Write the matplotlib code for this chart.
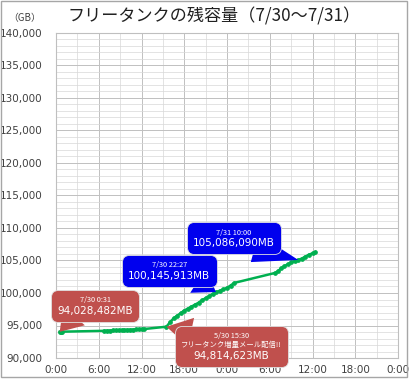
import matplotlib.pyplot as plt
from matplotlib.patches import Rectangle
from matplotlib.offsetbox import AnnotationBbox, TextArea, VPacker
import numpy as np

plt.rcParams['font.family'] = ['Noto Sans CJK JP', 'DejaVu Sans']

# hours from 7/30 0:00, remaining capacity in GB
hours = [0.52, 0.7, 0.9,
         6.7, 7.2, 7.6, 8.0, 8.4, 8.8, 9.2, 9.6, 10.0, 10.4, 10.8, 11.2, 11.6, 12.0, 12.4,
         15.5, 16.0, 16.5, 17.0, 17.5, 18.0, 18.5, 19.0, 19.5, 20.0, 20.5, 21.0, 21.5, 22.0,
         22.45, 23.0, 23.5, 24.0, 24.5, 25.0,
         30.8, 31.2, 31.6, 32.0, 32.5, 33.0, 33.5, 34.0, 34.5, 35.0, 35.5, 36.0, 36.4]
capacity = [94028, 94040, 94050,
            94180, 94200, 94220, 94240, 94260, 94280, 94300, 94320, 94340, 94360, 94380, 94400, 94420, 94440, 94460,
            94815, 95500, 96100, 96500, 96900, 97300, 97600, 97900, 98200, 98500, 98900, 99200, 99500, 99850,
            100146, 100350, 100550, 100800, 101150, 101550,
            103100, 103400, 103800, 104100, 104400, 104700, 104900, 105086, 105300, 105600, 105900, 106100, 106300]

xtick_pos = [0, 6, 12, 18, 24, 30, 36, 42, 48]
xtick_labels = ["0:00", "6:00", "12:00", "18:00", "0:00", "6:00", "12:00", "18:00", "0:00"]

# callouts: (point x, point y, box x, box y, small lines, big line, colour, tail start on box)
callouts = [
    (0.52, 94028, 5.5, 98000, "7/30 0:31", "94,028,482MB", "#c0504d", (0.22, 0.0)),
    (15.5, 94815, 24.6, 91800, "5/30 15:30\nフリータンク増量メール配信!!", "94,814,623MB", "#c0504d", (0.1, 1.0)),
    (22.45, 100146, 15.9, 103400, "7/30 22:27", "100,145,913MB", "#0000ee", (0.85, 0.0)),
    (34.0, 105086, 25.0, 108400, "7/31 10:00", "105,086,090MB", "#0000ee", (0.75, 0.0)),
]

fig = plt.figure(figsize=(4.12, 3.8), dpi=100)
ax = fig.add_axes([56 / 412, 1 - 358 / 380, 342 / 412, 325 / 380])

ax.plot(hours, capacity, color="#00b050", lw=1.8, marker="o", ms=2.4, zorder=3)

ax.set_xlim(0, 48)
ax.set_ylim(90000, 140000)
ax.set_xticks(xtick_pos)
ax.set_xticklabels(xtick_labels)
ax.set_xticks(np.arange(0, 49, 3), minor=True)
ax.set_yticks(np.arange(90000, 140001, 5000))
ax.set_yticks(np.arange(90000, 140001, 1000), minor=True)
ax.yaxis.set_major_formatter(plt.FuncFormatter(lambda v, p: f"{int(v):,}"))
ax.grid(which="major", color="#c0c0c0", lw=0.7)
ax.grid(which="minor", color="#d8d8d8", lw=0.5)
ax.tick_params(which="both", length=0, labelsize=7.5, labelcolor="#404040")
ax.tick_params(axis="y", pad=10)
ax.tick_params(axis="x", pad=5)
for lab in ax.get_xticklabels() + ax.get_yticklabels():
    lab.set_family("DejaVu Sans")
for s in ax.spines.values():
    s.set_color("#bfbfbf")
    s.set_linewidth(0.8)

for px, py, bx, by, small, big, col, rel in callouts:
    box = VPacker(children=[
        TextArea(small, textprops=dict(color="white", fontsize=5.3, ha="center", multialignment="center")),
        TextArea(big, textprops=dict(color="white", fontsize=7.5, family="DejaVu Sans")),
    ], align="center", pad=0, sep=1)
    ab = AnnotationBbox(box, (px, py), xybox=(bx, by), boxcoords="data",
                        bboxprops=dict(boxstyle="round,pad=0.45,rounding_size=0.5", fc=col, ec="#e0e0e0", lw=0.6),
                        arrowprops=dict(arrowstyle="wedge,tail_width=1.5,shrink_factor=0.5", fc=col, ec="none",
                                        relpos=rel, patchA=None, shrinkA=0, shrinkB=0, mutation_scale=10),
                        zorder=5)
    ax.add_artist(ab)

fig.text(214 / 412, 1 - 16 / 380, "フリータンクの残容量（7/30～7/31）", ha="center", va="center",
         fontsize=12.3, color="#202020")
fig.text(25 / 412, 1 - 18 / 380, "（GB）", ha="center", va="center", fontsize=7, color="#404040")

fig.patches.append(Rectangle((1 / 412, 3 / 380), 406 / 412, 376 / 380, transform=fig.transFigure,
                             fill=False, ec="#a6a6a6", lw=1))

fig.savefig("out.png", dpi=100)
